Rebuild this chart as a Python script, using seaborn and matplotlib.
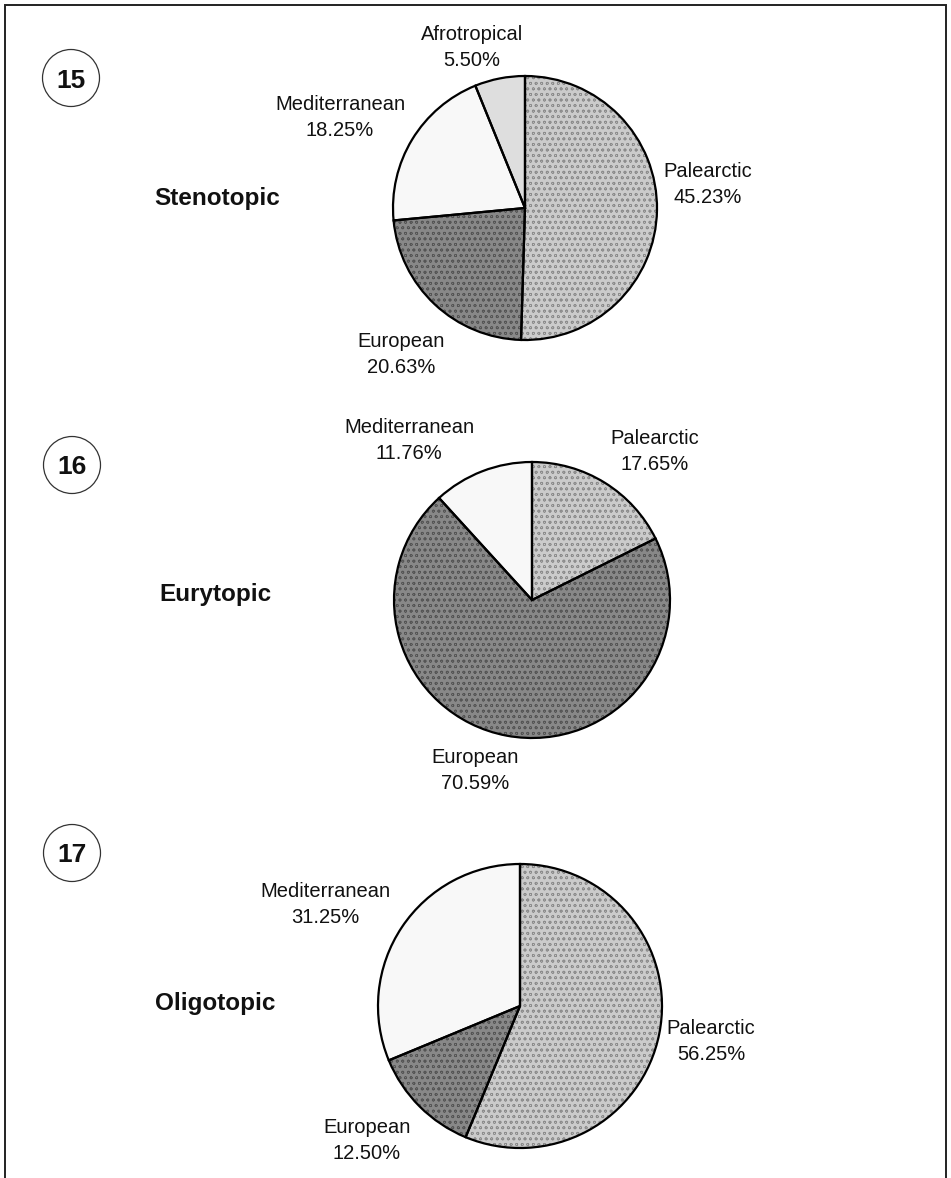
import matplotlib
matplotlib.use("Agg")
import matplotlib.pyplot as plt
from matplotlib.patches import Wedge
import seaborn as sns

# Distribution of chorotypes by ecological group
regions_steno = ["Palearctic", "European", "Mediterranean", "Afrotropical"]
values_steno = [45.23, 20.63, 18.25, 5.50]

regions_eury = ["Palearctic", "European", "Mediterranean"]
values_eury = [17.65, 70.59, 11.76]

regions_oligo = ["Palearctic", "European", "Mediterranean"]
values_oligo = [56.25, 12.50, 31.25]

group_names = ["Stenotopic", "Eurytopic", "Oligotopic"]
panel_numbers = ["15", "16", "17"]

sns.set_theme(style="white")
plt.rcParams["font.family"] = ["Liberation Sans", "DejaVu Sans"]
plt.rcParams["hatch.linewidth"] = 0.5

# screened grey fills (face colour, stipple colour, hatch pattern)
shades = {
    "Palearctic": ("#cbcbcb", "#8c8c8c", "ooo"),
    "European": ("#888888", "#555555", "ooo"),
    "Mediterranean": ("#f8f8f8", None, None),
    "Afrotropical": ("#dedede", None, None),
}

W, H = 951, 1178
fig = plt.figure(figsize=(W / 100, H / 100), dpi=100)
ax = fig.add_axes([0, 0, 1, 1])
ax.set_xlim(0, W)
ax.set_ylim(0, H)
ax.set_aspect("equal")
ax.axis("off")


def Y(y):
    return H - y


# panel layout in pixel space (y measured from the top):
# pie centre/radius, label x-centre and first baseline, title and badge spots
panels = [
    dict(regions=regions_steno, values=values_steno, center=(525, 208), radius=132,
         title=(217, 205), number=(71, 78),
         labels={"Palearctic": (708, 177), "European": (401, 347),
                 "Mediterranean": (340, 110), "Afrotropical": (472, 40)}),
    dict(regions=regions_eury, values=values_eury, center=(532, 600), radius=138,
         title=(215, 601), number=(72, 465),
         labels={"Palearctic": (655, 444), "European": (475, 763),
                 "Mediterranean": (409, 433)}),
    dict(regions=regions_oligo, values=values_oligo, center=(520, 1006), radius=142,
         title=(215, 1010), number=(72, 853),
         labels={"Palearctic": (711, 1034), "European": (367, 1133),
                 "Mediterranean": (325, 897)}),
]

LINE_GAP = 26

for p, name, num in zip(panels, group_names, panel_numbers):
    cx, cy = p["center"]
    wedges, _ = ax.pie(p["values"], colors=[shades[r][0] for r in p["regions"]],
                       startangle=90, counterclock=False,
                       center=(cx, Y(cy)), radius=p["radius"], frame=True)
    for w, r in zip(wedges, p["regions"]):
        face, dots, hatch = shades[r]
        w.set_linewidth(0)
        if hatch:
            w.set_edgecolor(dots)
            w.set_hatch(hatch)
        # clean black outline over the screened fill
        ax.add_patch(Wedge(w.center, w.r, w.theta1, w.theta2, facecolor="none",
                           edgecolor="black", linewidth=1.6))
    for r, v in zip(p["regions"], p["values"]):
        lx, ly = p["labels"][r]
        ax.text(lx, Y(ly), r, ha="center", va="baseline",
                fontsize=14.5, color="#111111")
        ax.text(lx, Y(ly + LINE_GAP), f"{v:.2f}%", ha="center", va="baseline",
                fontsize=14.5, color="#111111")
    tx, ty = p["title"]
    ax.text(tx, Y(ty), name, ha="center", va="baseline", fontsize=17.5,
            fontweight="bold", color="#111111")
    nx, ny = p["number"]
    ax.add_patch(plt.Circle((nx, Y(ny)), 28.5, fill=False, edgecolor="#333333",
                            linewidth=0.9))
    ax.text(nx, Y(ny), num, ha="center", va="center_baseline", fontsize=19,
            fontweight="bold", color="#111111")

# open-bottom frame around the panels
ax.set_xlim(0, W)
ax.set_ylim(0, H)
ax.plot([4.5, 4.5, 946, 946], [0, Y(5), Y(5), 0], color="#222222",
        linewidth=1.4, solid_joinstyle="miter")

fig.savefig("out.png", dpi=100)
